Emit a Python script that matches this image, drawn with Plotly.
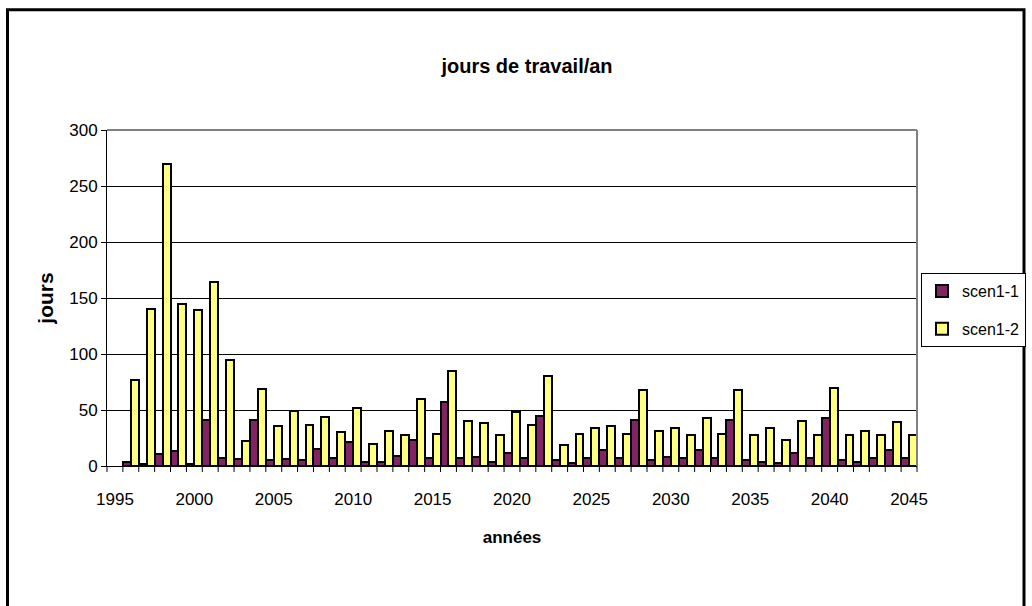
import plotly.graph_objects as go

# Years and working days per year for the two scenarios
years = list(range(1996, 2046))
scen1_1 = [4, 2, 11, 13, 2, 41, 7, 6, 41, 5,
           6, 5, 15, 7, 21, 4, 4, 9, 23, 7,
           57, 7, 8, 4, 12, 7, 45, 5, 3, 7,
           14, 7, 41, 5, 8, 7, 14, 7, 41, 5,
           4, 3, 12, 7, 43, 5, 4, 7, 14, 7]
scen1_2 = [77, 140, 270, 145, 139, 164, 95, 22, 69, 36,
           49, 37, 44, 30, 52, 20, 31, 28, 60, 29,
           85, 40, 38, 28, 48, 37, 80, 19, 29, 34,
           36, 29, 68, 31, 34, 28, 43, 29, 68, 28,
           34, 23, 40, 28, 70, 28, 31, 28, 39, 28]
label_years = list(range(1995, 2046, 5))

FONT = "Liberation Sans, Arial, sans-serif"
X_RANGE = [label_years[0] - 0.5, label_years[-1] + 0.5]
SPAN = X_RANGE[1] - X_RANGE[0]

fig = go.Figure()
fig.add_trace(go.Bar(x=years, y=scen1_1, name="scen1-1", legendgroup="a",
                     marker=dict(color="#822464", line=dict(color="black", width=2))))
fig.add_trace(go.Bar(x=years, y=scen1_2, name="scen1-2", legendgroup="b",
                     marker=dict(color="#FFFF80", line=dict(color="black", width=2))))

L, R, T, B = 107, 917, 129.5, 466.5
W, H = R - L, B - T


def px(x):
    return (x - L) / W


def py(y):
    return (B - y) / H


# tick marks on the boundaries between year categories (paper coordinates,
# so they are drawn below the axis line rather than clipped)
tick_shapes = [dict(type="line", xref="paper", yref="paper",
                    x0=k / SPAN, x1=k / SPAN, y0=0, y1=-6 / H,
                    line=dict(color="black", width=1))
               for k in range(int(SPAN) + 1)]

fig.update_layout(
    width=1032, height=606,
    margin=dict(l=L, r=1032 - R, t=T, b=606 - B, autoexpand=False),
    paper_bgcolor="white", plot_bgcolor="white",
    barmode="group", bargap=0, bargroupgap=0,
    font=dict(family=FONT, size=17, color="black"),
    title=dict(text="<b>jours de travail/an</b>", x=px(527), xref="paper",
               y=1 - 66 / 606, yanchor="middle", xanchor="center",
               font=dict(size=20)),
    xaxis=dict(range=X_RANGE, tickmode="array", tickvals=label_years,
               ticktext=[str(v) for v in label_years],
               # invisible ticks push the year labels down
               ticks="outside", ticklen=18, tickcolor="rgba(0,0,0,0)",
               showgrid=False, zeroline=False, automargin=False,
               showline=True, linecolor="black", linewidth=1,
               title=dict(text="<b>années</b>", standoff=22, font=dict(size=17))),
    yaxis=dict(range=[0, 300], dtick=50, ticks="outside", ticklen=5,
               tickcolor="black", showgrid=True, gridcolor="black", gridwidth=1,
               zeroline=False, showline=True, linecolor="black", linewidth=1,
               automargin=False,
               title=dict(text="<b>jours</b>", standoff=9, font=dict(size=21))),
    legend=dict(x=px(921), y=py(273), xanchor="left", yanchor="top",
                bordercolor="black", borderwidth=1, bgcolor="white",
                font=dict(size=16), itemwidth=30, tracegroupgap=14),
    showlegend=True,
    shapes=tick_shapes + [
        # plot area frame: top and right in grey
        dict(type="line", xref="paper", yref="paper", x0=0, x1=1, y0=1, y1=1,
             line=dict(color="#808080", width=2), layer="above"),
        dict(type="line", xref="paper", yref="paper", x0=1, x1=1, y0=0, y1=1,
             line=dict(color="#808080", width=2), layer="above"),
        # chart border
        dict(type="rect", xref="paper", yref="paper",
             x0=px(7.5), x1=px(1024), y0=py(9), y1=py(640),
             line=dict(color="black", width=3), layer="above"),
    ],
)

fig.write_html("out.html")
